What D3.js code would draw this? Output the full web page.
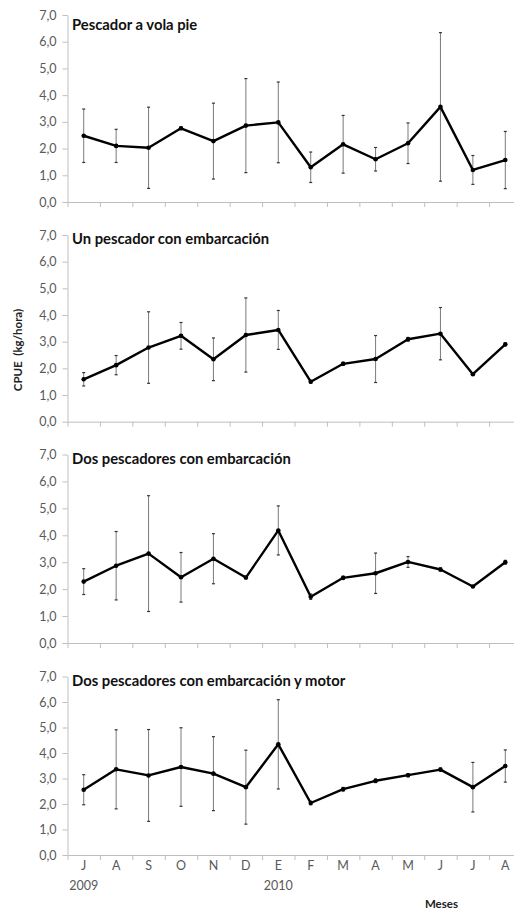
<!DOCTYPE html>
<html>
<head>
<meta charset="utf-8">
<script src="https://cdn.jsdelivr.net/npm/d3@7"></script>
<style>
  html, body { margin: 0; padding: 0; background: #fff; }
  svg { display: block; }
  text { font-family: Lato, "Open Sans", sans-serif; }
</style>
</head>
<body>
<svg id="chart" width="514" height="919"></svg>
<script>
// Months from July 2009 to August 2010
const months = ["J", "A", "S", "O", "N", "D", "E", "F", "M", "A", "M", "J", "J", "A"];
const yearLabels = ["2009", "2010"];
const yearIndex = [0, 6];
const yTicks = [0, 1, 2, 3, 4, 5, 6, 7];

const panelTitles = [
  "Pescador a vola pie",
  "Un pescador con embarcación",
  "Dos pescadores con embarcación",
  "Dos pescadores con embarcación y motor"
];

// Mean CPUE (kg/hora) and error-bar half widths for each fishing mode
const meanPie   = [2.48, 2.10, 2.03, 2.76, 2.28, 2.86, 2.98, 1.30, 2.16, 1.60, 2.20, 3.56, 1.20, 1.57];
const errPie    = [1.00, 0.62, 1.52, 0.05, 1.42, 1.76, 1.51, 0.57, 1.08, 0.44, 0.76, 2.78, 0.54, 1.07];
const meanUno   = [1.59, 2.12, 2.78, 3.22, 2.34, 3.25, 3.44, 1.50, 2.17, 2.35, 3.09, 3.30, 1.78, 2.90];
const errUno    = [0.25, 0.36, 1.34, 0.50, 0.80, 1.39, 0.73, 0.05, 0.06, 0.88, 0.07, 0.98, 0.04, 0.05];
const meanDos   = [2.28, 2.87, 3.32, 2.44, 3.13, 2.43, 4.18, 1.72, 2.42, 2.59, 3.01, 2.73, 2.10, 3.00];
const errDos    = [0.48, 1.27, 2.15, 0.92, 0.93, 0.05, 0.91, 0.10, 0.06, 0.75, 0.20, 0.06, 0.03, 0.07];
const meanMotor = [2.56, 3.36, 3.12, 3.45, 3.19, 2.66, 4.34, 2.04, 2.58, 2.91, 3.13, 3.35, 2.66, 3.49];
const errMotor  = [0.59, 1.55, 1.80, 1.54, 1.45, 1.45, 1.75, 0.07, 0.07, 0.07, 0.06, 0.06, 0.97, 0.63];

const means = [meanPie, meanUno, meanDos, meanMotor];
const errs = [errPie, errUno, errDos, errMotor];

// Vertical placement of each panel: bottom (0,0) and top (7,0) pixel rows, title baseline
const layout = [
  { y0: 202.0, y7: 15.0,  titleY: 30 },
  { y0: 421.7, y7: 235.0, titleY: 244 },
  { y0: 643.0, y7: 454.5, titleY: 464 },
  { y0: 855.0, y7: 676.5, titleY: 686 }
];

const svg = d3.select("#chart");
const xLeft = 67.5, step = 32.43;
const x = d3.scaleLinear().domain([0, months.length]).range([xLeft, xLeft + step * months.length]);
const fmt = d => d3.format(".1f")(d).replace(".", ",");
const axisGrey = "#bfbfbf";
const labelGrey = "#595959";

layout.forEach((L, p) => {
  const y = d3.scaleLinear().domain([0, 7]).range([L.y0, L.y7]);
  const g = svg.append("g");

  // y axis
  const ya = g.append("g")
    .attr("transform", `translate(${xLeft},0)`)
    .call(d3.axisLeft(y).tickValues(yTicks).tickSize(5).tickSizeOuter(0).tickPadding(6).tickFormat(fmt));
  ya.select(".domain").attr("stroke", axisGrey);
  ya.selectAll(".tick line").attr("stroke", axisGrey);
  ya.selectAll(".tick text").attr("fill", labelGrey).style("font-size", "12.5px");

  // x axis with ticks between months
  const xa = g.append("g")
    .attr("transform", `translate(0,${L.y0})`)
    .call(d3.axisBottom(x).tickValues(d3.range(months.length + 1)).tickSize(5).tickSizeOuter(0).tickFormat(""));
  xa.select(".domain").attr("stroke", axisGrey);
  xa.selectAll(".tick line").attr("stroke", axisGrey);

  // panel title
  g.append("text")
    .attr("x", 72)
    .attr("y", L.titleY)
    .attr("font-weight", "bold")
    .attr("font-size", "14.8px")
    .attr("fill", "#111")
    .text(panelTitles[p]);

  const m = means[p], e = errs[p];
  const cx = i => x(i + 0.5);

  // error bars
  const eb = g.append("g");
  m.forEach((v, i) => {
    eb.append("line")
      .attr("x1", cx(i)).attr("x2", cx(i))
      .attr("y1", y(v - e[i])).attr("y2", y(v + e[i]))
      .attr("stroke", "#7a7a7a").attr("stroke-width", 1);
    [v - e[i], v + e[i]].forEach(w => {
      eb.append("line")
        .attr("x1", cx(i) - 1.5).attr("x2", cx(i) + 1.5)
        .attr("y1", y(w)).attr("y2", y(w))
        .attr("stroke", "#333").attr("stroke-width", 1.2);
    });
  });

  // mean line
  g.append("path")
    .datum(m)
    .attr("fill", "none")
    .attr("stroke", "#000")
    .attr("stroke-width", 2.4)
    .attr("stroke-linejoin", "round")
    .attr("d", d3.line().x((d, i) => cx(i)).y(d => y(d)));

  // markers
  g.selectAll("circle.pt").data(m).enter().append("circle")
    .attr("class", "pt")
    .attr("cx", (d, i) => cx(i))
    .attr("cy", d => y(d))
    .attr("r", 2.3)
    .attr("fill", "#000");

  // month labels under the last panel only
  if (p === layout.length - 1) {
    g.selectAll("text.month").data(months).enter().append("text")
      .attr("class", "month")
      .attr("x", (d, i) => cx(i))
      .attr("y", L.y0 + 15)
      .attr("text-anchor", "middle")
      .attr("fill", labelGrey)
      .style("font-size", "12.5px")
      .text(d => d);
    g.selectAll("text.year").data(yearLabels).enter().append("text")
      .attr("class", "year")
      .attr("x", (d, i) => cx(yearIndex[i]))
      .attr("y", L.y0 + 35)
      .attr("text-anchor", "middle")
      .attr("fill", labelGrey)
      .style("font-size", "12.5px")
      .text(d => d);
    g.append("text")
      .attr("x", cx(11) + 1)
      .attr("y", L.y0 + 53)
      .attr("text-anchor", "middle")
      .attr("font-weight", "bold")
      .attr("fill", "#222")
      .style("font-size", "11.5px")
      .text("Meses");
  }
});

// shared y-axis title
svg.append("text")
  .attr("transform", "translate(22,350) rotate(-90)")
  .attr("text-anchor", "middle")
  .attr("font-weight", "bold")
  .attr("fill", "#222")
  .style("font-size", "11.5px")
  .style("white-space", "pre")
  .text("CPUE  (kg/hora)");
</script>
</body>
</html>
